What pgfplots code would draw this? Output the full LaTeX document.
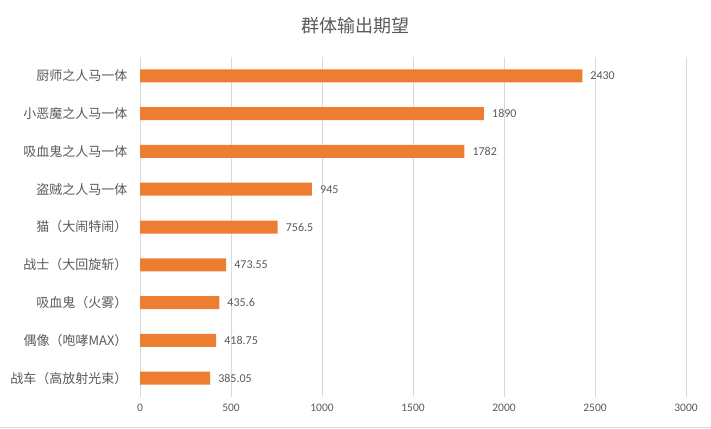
\documentclass[border=0pt]{standalone}
\usepackage{pgfplots}
\pgfplotsset{compat=1.18}
\usepackage{fontspec}
\setmainfont{Carlito}
\newfontfamily\cjk{Noto Sans CJK SC}
\definecolor{barc}{HTML}{ED7D31}
\definecolor{txt}{HTML}{595959}
\definecolor{grd}{HTML}{D9D9D9}
\begin{document}
\begin{tikzpicture}
\path[use as bounding box] (0,0) rectangle (711pt,428pt);
\draw[grd, line width=1pt] (0,1pt) -- (711pt,1pt);
\node[font=\cjk\fontsize{18}{18}\selectfont, text=txt] at (355.5pt,402pt) {群体输出期望};
\begin{axis}[
  at={(140pt,31pt)}, anchor=south west,
  scale only axis, width=546pt, height=340pt,
  xbar, bar width=13pt,
  xmin=0, xmax=3000, xtick={0,500,...,3000},
  ymin=-0.5, ymax=8.5, y dir=reverse,
  ytick={0,...,8},
  yticklabels={厨师之人马一体,小恶魔之人马一体,吸血鬼之人马一体,盗贼之人马一体,猫（大闹特闹）,战士（大回旋斩）,吸血鬼（火雾）,偶像（咆哮MAX）,战车（高放射光束）},
  yticklabel style={font=\cjk\fontsize{13}{13}\selectfont, text=txt, xshift=-9pt},
  xticklabel style={font=\fontsize{11.5}{11.5}\selectfont, text=txt, yshift=-3pt},
  /pgf/number format/assume math mode=true,
  /pgf/number format/1000 sep={},
  axis line style={draw=none},
  xmajorgrids, grid style={grd, line width=0.8pt},
  major tick length=0pt,
  point meta=explicit symbolic,
  nodes near coords,
  nodes near coords style={font=\fontsize{12}{12}\selectfont, text=txt, anchor=west, inner sep=0pt, xshift=8pt},
]
\addplot[fill=barc, draw=none] coordinates {
  (2430,0) [2430]
  (1890,1) [1890]
  (1782,2) [1782]
  (945,3) [945]
  (756.5,4) [756.5]
  (473.55,5) [473.55]
  (435.6,6) [435.6]
  (418.75,7) [418.75]
  (385.05,8) [385.05]
};
\end{axis}
\end{tikzpicture}
\end{document}
